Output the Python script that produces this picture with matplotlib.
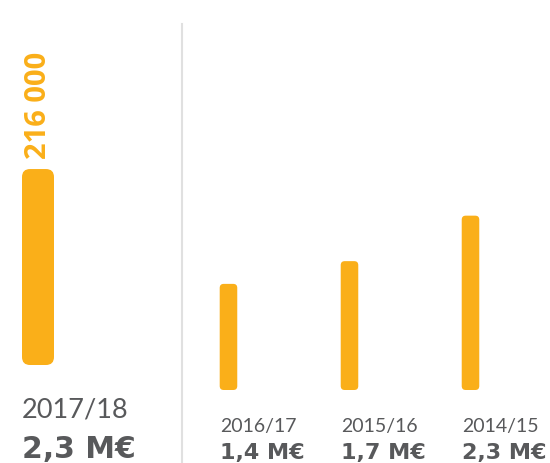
import matplotlib
matplotlib.use('Agg')
import matplotlib.pyplot as plt
from matplotlib.patches import FancyBboxPatch
from matplotlib.lines import Line2D
from matplotlib.transforms import IdentityTransform

# Data
main_season = '2017/18'
main_value = 2.3            # M€
main_count = '216 000'
seasons = ['2016/17', '2015/16', '2014/15']
values = [1.4, 1.7, 2.3]    # M€

ORANGE = '#FAAF19'
GREY = '#58595B'
FONT = 'Lato'
BOLD = 'DejaVu Sans'

W, H = 550, 464
fig = plt.figure(figsize=(W / 100, H / 100), dpi=100)
fig.patch.set_facecolor('white')


def px_axes(left, bottom, width, height):
    return fig.add_axes([left / W, bottom / H, width / W, height / H])


def rounded(ax, bars, radius):
    # swap plain bars for rounded ones, using the bar geometry in pixels
    fig.canvas.draw()
    for b in bars:
        x0, y0 = ax.transData.transform((b.get_x(), b.get_y()))
        x1, y1 = ax.transData.transform((b.get_x() + b.get_width(), b.get_y() + b.get_height()))
        fig.add_artist(FancyBboxPatch((x0, y0), x1 - x0, y1 - y0,
                                      boxstyle=f'round,pad=0,rounding_size={radius}',
                                      transform=IdentityTransform(), facecolor=ORANGE,
                                      edgecolor='none'))
        b.set_visible(False)


def money(v):
    return f'{v:.1f} M€'.replace('.', ',')


# left: current season, own scale (85 px per M€)
ax1 = px_axes(0, 98, 180, 350)
ax1.set_xlim(-0.38, 1.42)
ax1.set_ylim(0, 350 / 85.2)
ax1.axis('off')
big = ax1.bar([0], [main_value], width=0.32, color=ORANGE)
rounded(ax1, big, 8)
ax1.annotate(main_count, xy=(0, main_value), xytext=(0, 8), textcoords='offset points',
             rotation=90, ha='center', va='bottom', color=ORANGE, fontsize=21,
             fontweight='bold', family='Open Sans')
ax1.annotate(main_season, xy=(-0.16, 0), xytext=(0, -37.2), textcoords='offset points',
             ha='left', va='baseline', color=GREY, fontsize=19.5, family=FONT)
ax1.annotate(money(main_value), xy=(-0.16, 0), xytext=(0, -66), textcoords='offset points',
             ha='left', va='baseline', color=GREY, fontsize=21.5, fontweight='bold', family=BOLD)

# divider
fig.add_artist(Line2D([182 / W, 182 / W], [0, (H - 25) / H], color='#e0e0e0', lw=1.5))

# right: previous seasons (75.8 px per M€)
ax2 = px_axes(190, 73, 360, 300)
ax2.set_xlim(-0.318, 2.657)
ax2.set_ylim(0, 300 / 75.8)
ax2.axis('off')
x = range(len(values))
bars = ax2.bar(x, values, width=0.145, color=ORANGE)
rounded(ax2, bars, 4)
for i, (s, v) in enumerate(zip(seasons, values)):
    ax2.annotate(s, xy=(i - 0.0725, 0), xytext=(0, -29.8), textcoords='offset points',
                 ha='left', va='baseline', color=GREY, fontsize=14, family=FONT)
    ax2.annotate(money(v), xy=(i - 0.0725, 0), xytext=(0, -49), textcoords='offset points',
                 ha='left', va='baseline', color=GREY, fontsize=16, fontweight='bold', family=BOLD)

fig.savefig('out.png', dpi=100)
